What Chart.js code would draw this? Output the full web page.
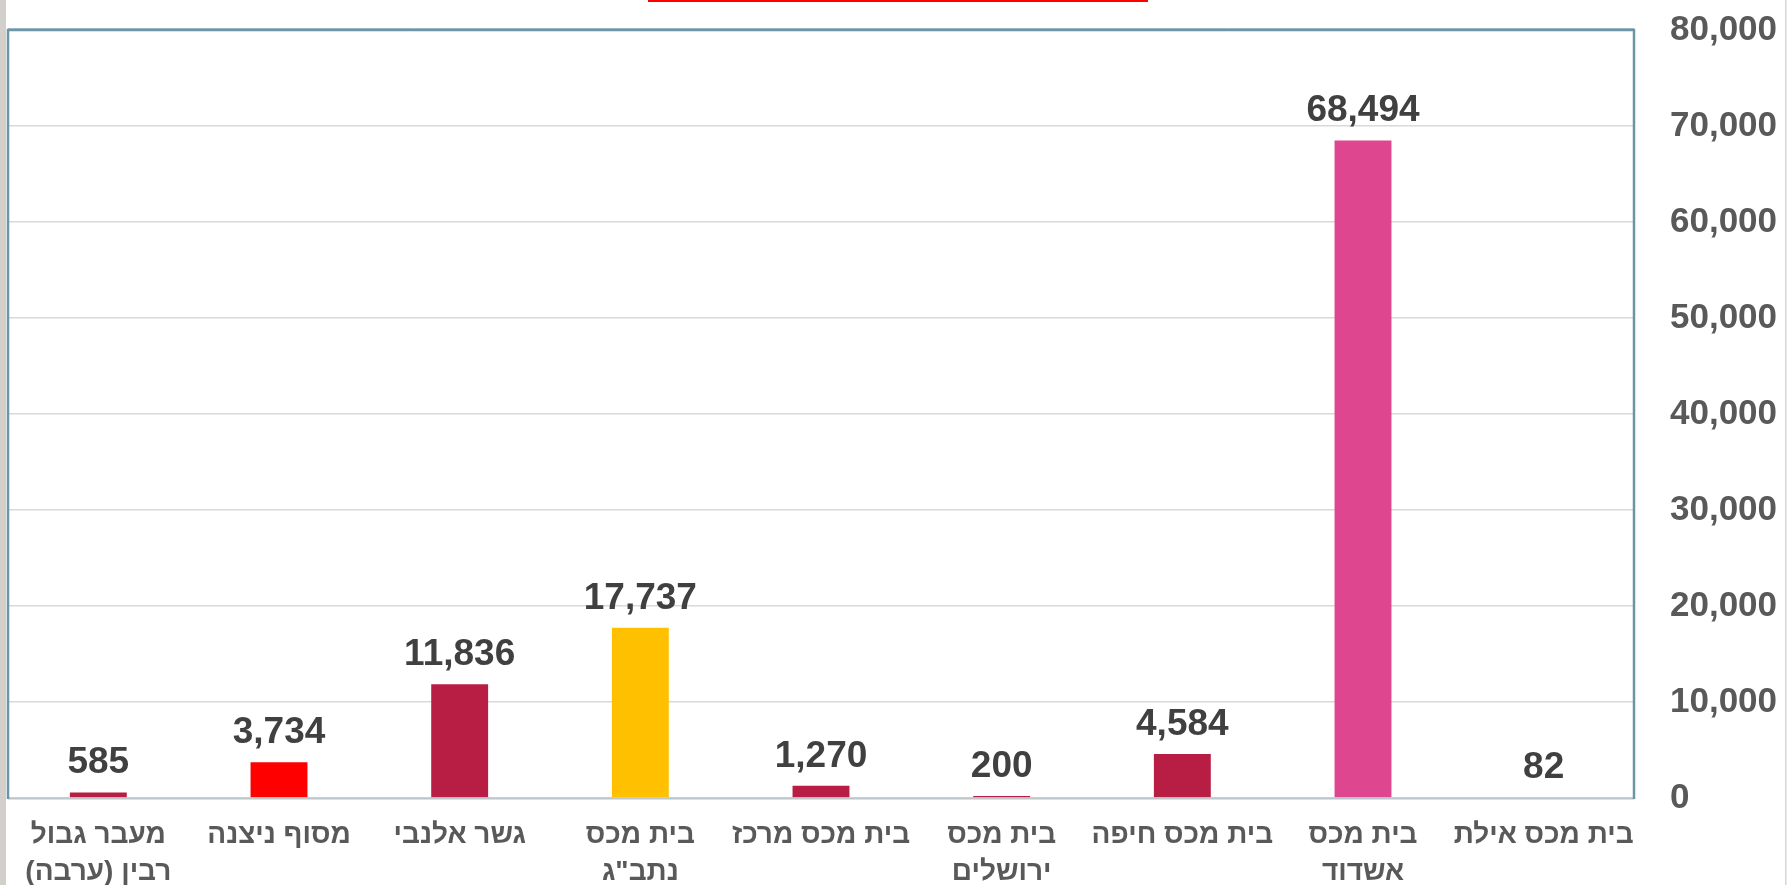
<!DOCTYPE html>
<html>
<head>
<meta charset="utf-8">
<script src="https://cdn.jsdelivr.net/npm/chart.js@4"></script>
<style>
  html, body { margin: 0; padding: 0; background: #ffffff; }
  #wrap { position: relative; width: 1787px; height: 885px; }
  canvas { display: block; }
</style>
</head>
<body>
<div id="wrap"><canvas id="c" width="1787" height="885"></canvas></div>
<script>
// ---- data ----
const categories = [
  ['מעבר גבול', 'רבין (ערבה)'],
  ['מסוף ניצנה'],
  ['גשר אלנבי'],
  ['בית מכס', 'נתב"ג'],
  ['בית מכס מרכז'],
  ['בית מכס', 'ירושלים'],
  ['בית מכס חיפה'],
  ['בית מכס', 'אשדוד'],
  ['בית מכס אילת']
];
const values = [585, 3734, 11836, 17737, 1270, 200, 4584, 68494, 82];
const yTicks = [0, 10000, 20000, 30000, 40000, 50000, 60000, 70000, 80000];

// ---- styles ----
const CRIMSON = '#B81E43', RED = '#FF0000', YELLOW = '#FFC000', PINK = '#DF4690';
const barColors = [CRIMSON, RED, CRIMSON, YELLOW, CRIMSON, CRIMSON, CRIMSON, PINK, PINK];
const FONT = '"Liberation Sans", Arial, "DejaVu Sans", sans-serif';
const fmt = v => Number(v).toLocaleString('en-US');

const decorPlugin = {
  id: 'decor',
  beforeDraw(chart) {
    const ctx = chart.ctx;
    ctx.save();
    ctx.fillStyle = '#ffffff';
    ctx.fillRect(0, 0, chart.width, chart.height);
    ctx.fillStyle = '#D3CFCA';
    ctx.fillRect(0, 0, 6, chart.height);
    ctx.fillStyle = '#D6D6D6';
    ctx.fillRect(chart.width - 2, 0, 1.5, chart.height);
    ctx.fillStyle = '#FF0000';
    ctx.fillRect(648, 0, 500, 2);
    ctx.restore();
  },
  afterDatasetsDraw(chart) {
    const ctx = chart.ctx;
    const a = chart.chartArea;
    ctx.save();
    ctx.strokeStyle = '#BEC6CB';
    ctx.lineWidth = 2;
    ctx.beginPath();
    ctx.moveTo(a.left, a.bottom + 0.5);
    ctx.lineTo(a.right, a.bottom + 0.5);
    ctx.stroke();
    ctx.strokeStyle = '#A8C0CA';
    ctx.lineWidth = 1;
    ctx.beginPath();
    ctx.moveTo(a.left, a.top - 1.5);
    ctx.lineTo(a.right, a.top - 1.5);
    ctx.stroke();
    ctx.strokeStyle = '#6D95A6';
    ctx.lineWidth = 2.5;
    ctx.beginPath();
    ctx.moveTo(a.left, a.bottom + 1);
    ctx.lineTo(a.left, a.top);
    ctx.lineTo(a.right, a.top);
    ctx.lineTo(a.right, a.bottom + 1);
    ctx.stroke();
    const meta = chart.getDatasetMeta(0);
    ctx.fillStyle = '#404040';
    ctx.font = 'bold 37px ' + FONT;
    ctx.textAlign = 'center';
    ctx.textBaseline = 'alphabetic';
    meta.data.forEach((bar, i) => {
      ctx.fillText(fmt(values[i]), bar.x, bar.y - 19);
    });
    ctx.restore();
  }
};

new Chart(document.getElementById('c'), {
  type: 'bar',
  data: {
    labels: categories,
    datasets: [{
      data: values,
      backgroundColor: barColors,
      borderWidth: 0,
      barPercentage: 0.315,
      categoryPercentage: 1.0
    }]
  },
  options: {
    responsive: false,
    devicePixelRatio: 1,
    animation: false,
    events: [],
    layout: { padding: { left: 8, top: 30, right: 0, bottom: 0 } },
    plugins: { legend: { display: false }, tooltip: { enabled: false }, title: { display: false } },
    scales: {
      x: {
        grid: { display: false, drawTicks: false },
        border: { display: false },
        ticks: {
          color: '#595959',
          font: { family: FONT, size: 28, weight: 'bold', lineHeight: 1.32 },
          padding: 19,
          maxRotation: 0,
          autoSkip: false
        },
        afterFit(scale) { scale.height = 87; scale.paddingLeft = 0; scale.paddingRight = 0; }
      },
      y: {
        position: 'right',
        min: 0,
        max: 80000,
        afterBuildTicks(scale) { scale.ticks = yTicks.map(v => ({ value: v })); },
        grid: { color: '#D9D9D9', lineWidth: 1.5, drawTicks: false },
        border: { display: false },
        ticks: {
          color: '#595959',
          font: { family: FONT, size: 35, weight: 'bold' },
          padding: 36,
          crossAlign: 'near',
          callback: v => fmt(v)
        },
        afterFit(scale) { scale.width = 153; scale.paddingTop = 0; scale.paddingBottom = 0; }
      }
    }
  },
  plugins: [decorPlugin]
});
</script>
</body>
</html>
